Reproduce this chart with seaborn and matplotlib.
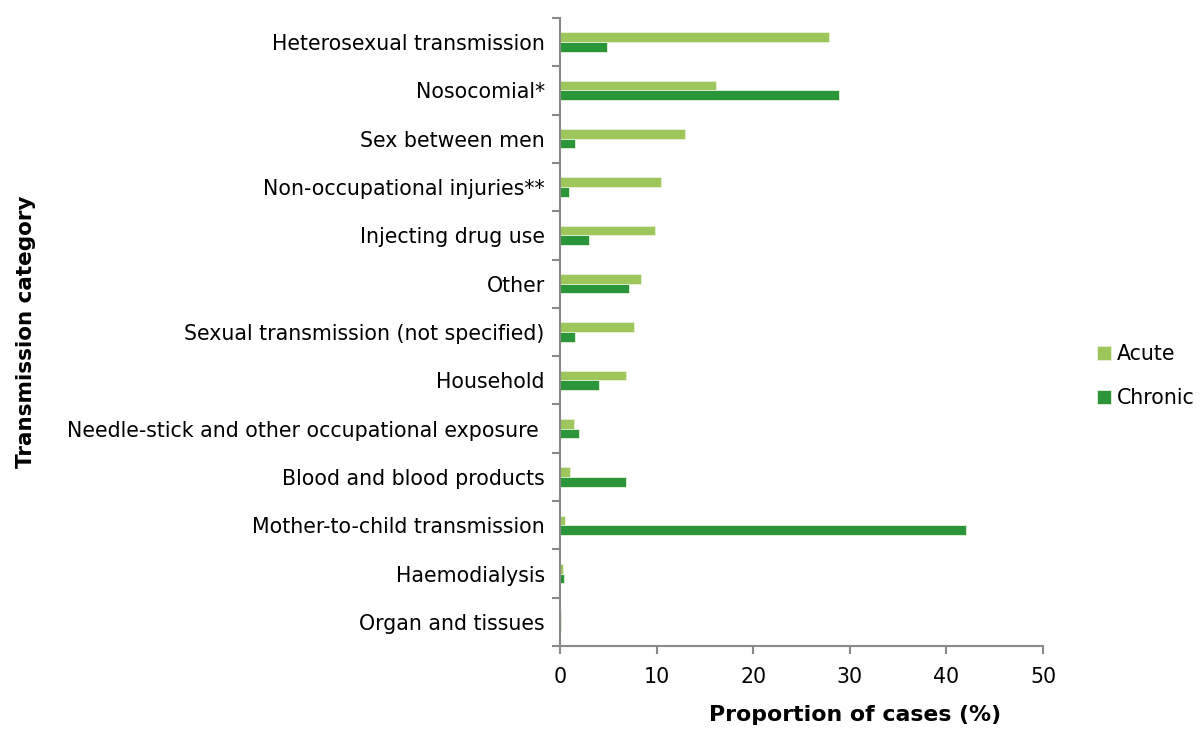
import numpy as np
import pandas as pd
import matplotlib
matplotlib.use('Agg')
import matplotlib.pyplot as plt
import seaborn as sns

# Data
categories = ['Heterosexual transmission', 'Nosocomial*', 'Sex between men',
              'Non-occupational injuries**', 'Injecting drug use', 'Other',
              'Sexual transmission (not specified)', 'Household',
              'Needle-stick and other occupational exposure ',
              'Blood and blood products', 'Mother-to-child transmission',
              'Haemodialysis', 'Organ and tissues']
acute = [27.8, 16.1, 12.9, 10.4, 9.8, 8.4, 7.7, 6.8, 1.4, 1.0, 0.55, 0.28, 0.1]
chronic = [4.9, 28.9, 1.6, 0.9, 3.0, 7.1, 1.6, 4.0, 2.0, 6.8, 42.0, 0.4, 0.1]
series = ['Acute', 'Chronic']
colors = ['#9DC75B', '#2B9539']

df = pd.DataFrame({
    'category': categories * 2,
    'value': acute + chronic,
    'type': [series[0]] * len(categories) + [series[1]] * len(categories),
})

sns.set_style('white')
plt.rcParams['font.family'] = ['DejaVu Sans']
plt.rcParams['text.color'] = 'black'

fig = plt.figure(figsize=(12, 7.29), dpi=100)
ax = fig.add_axes([0.4667, 0.1139, 0.4025, 0.8614])

sns.barplot(data=df, x='value', y='category', hue='type', order=categories,
            hue_order=series, palette=colors, width=0.4, edgecolor='#E8F2DC',
            linewidth=0.6, saturation=1, ax=ax)

ax.set_xlim(0, 50)
ax.set_ylim(len(categories) - 0.5, -0.5)
ax.set_xticks(np.arange(0, 51, 10))

# labels at category centres, tick marks at the boundaries
ax.set_yticks(np.arange(len(categories)))
ax.set_yticks(np.arange(len(categories) + 1) - 0.5, minor=True)
ax.tick_params(left=True, bottom=True)
ax.tick_params(axis='y', which='major', length=0, pad=11, labelsize=14.8, labelcolor='black')
ax.tick_params(axis='y', which='minor', left=True, length=6, width=1.5,
               color='#898989', direction='out')
ax.tick_params(axis='x', which='major', length=6, width=1.5, color='#898989',
               direction='out', pad=9, labelsize=14.8, labelcolor='black')

for side in ['top', 'right']:
    ax.spines[side].set_visible(False)
for side in ['left', 'bottom']:
    ax.spines[side].set_color('#898989')
    ax.spines[side].set_linewidth(1.5)

ax.set_xlabel('Proportion of cases (%)', fontsize=15.8, fontweight='bold', color='black')
ax.xaxis.set_label_coords(0.61, -0.094)
ax.set_ylabel('Transmission category', fontsize=15.5, fontweight='bold', color='black')
ax.yaxis.set_label_coords(-1.085, 0.5)

leg = ax.legend(loc='center left', bbox_to_anchor=(0.914, 0.484),
                bbox_transform=fig.transFigure, frameon=False, fontsize=14.8,
                handlelength=0.68, handleheight=0.68, handletextpad=0.3,
                labelspacing=1.2, borderaxespad=0, borderpad=0)
for t in leg.get_texts():
    t.set_color('black')

fig.savefig('out.png', dpi=100)
